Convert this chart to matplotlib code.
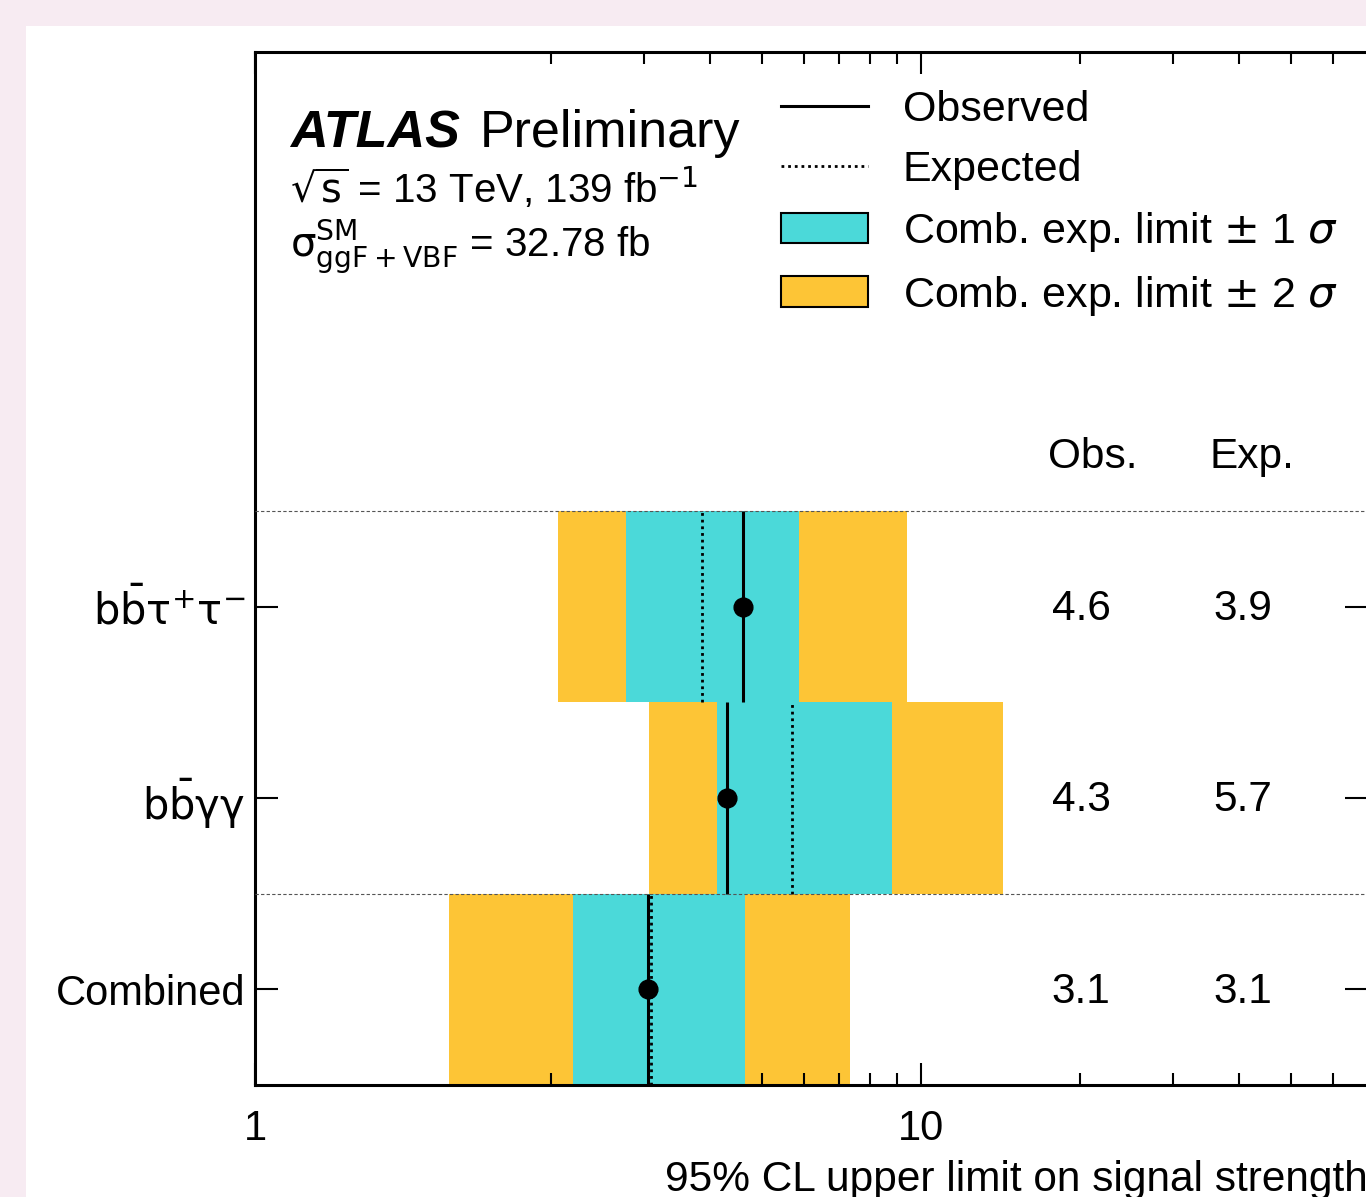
import matplotlib
matplotlib.use("Agg")
import matplotlib.pyplot as plt
from matplotlib.lines import Line2D
from matplotlib.patches import Patch, Rectangle
import matplotlib.transforms as mtransforms

# --- données ---
channels = [r"$\mathrm{b\bar{b}\tau^{+}\tau^{-}}$", r"$\mathrm{b\bar{b}\gamma\gamma}$", "Combined"]
obs_limit = [4.6, 4.3, 3.05]
exp_limit = [3.85, 5.7, 3.09]
minus2 = [2.06, 3.06, 1.28]
minus1 = [2.77, 4.11, 2.20]
plus1 = [5.88, 8.81, 4.65]
plus2 = [9.41, 14.3, 7.34]
obs_text = ["4.6", "4.3", "3.1"]
exp_text = ["3.9", "5.7", "3.1"]

ypos = [2, 1, 0]
x_lo, x_hi = 0.551, 70.0
minor_ticks = [2, 3, 4, 5, 6, 7, 8, 9, 20, 30, 40, 50, 60]

CYAN = "#4bd9d9"
YELLOW = "#fdc536"
PINK = "#f7ebf2"

plt.rcParams["font.family"] = ["Liberation Sans", "DejaVu Sans"]
plt.rcParams["mathtext.fontset"] = "dejavusans"

W, H = 1366, 1197
fig = plt.figure(figsize=(W / 100, H / 100), dpi=100)
fig.patch.set_facecolor(PINK)
fig.add_artist(Rectangle((26 / W, 0), 1, 1 - 26 / H, transform=fig.transFigure,
                         facecolor="white", edgecolor="none", zorder=-5))

ax = fig.add_axes([255 / W, (H - 1085) / H, (1368 - 255) / W, (1085 - 52) / H])
ax.set_xscale("log")
ax.set_xlim(x_lo, x_hi)
ax.set_ylim(-0.5, 4.9)

# bandes ±2σ puis ±1σ
for y, m2, m1, p1, p2 in zip(ypos, minus2, minus1, plus1, plus2):
    ax.barh(y, p2 - m2, left=m2, height=1.0, color=YELLOW, linewidth=0, zorder=1)
    ax.barh(y, p1 - m1, left=m1, height=1.0, color=CYAN, linewidth=0, zorder=2)

for y, o, e in zip(ypos, obs_limit, exp_limit):
    ax.vlines(o, y - 0.5, y + 0.5, colors="black", linewidth=2.2, zorder=3)
    ax.vlines(e, y - 0.5, y + 0.5, colors="black", linestyles=(0, (1, 1.4)), linewidth=2.0, zorder=4)
ax.plot(obs_limit, ypos, "o", color="black", markersize=13.5, zorder=5)

for ysep in [2.5, 0.5]:
    ax.axhline(ysep, color="#555555", linestyle=(0, (3, 2)), linewidth=0.8, zorder=6)

# axes
ax.set_xticks([x_lo, 10], labels=["1", "10"])
ax.set_xticks(minor_ticks, minor=True)
ax.xaxis.set_minor_formatter(matplotlib.ticker.NullFormatter())
ax.set_yticks(ypos, labels=channels)
ax.tick_params(axis="both", which="both", direction="in", top=True, right=True,
               width=1.5, labelsize=30)
ax.tick_params(axis="x", which="major", length=15.5, pad=17)
ax.tick_params(axis="x", which="minor", length=8.5)
ax.tick_params(axis="y", which="major", length=16.5, pad=7)
ax.tick_params(axis="y", which="minor", left=False, right=False)
for sp in ax.spines.values():
    sp.set_linewidth(2.2)

ax.set_xlabel("95% CL upper limit on signal strength", fontsize=30.5, loc="right", labelpad=8)

# textes ATLAS
ax.text(0.0314, 0.908, "ATLAS", transform=ax.transAxes, fontsize=37.5,
        fontweight="bold", fontstyle="italic", va="baseline")
ax.text(0.202, 0.908, "Preliminary", transform=ax.transAxes, fontsize=37.5, va="baseline")
ax.text(0.0314, 0.854, r"$\sqrt{\mathrm{s}}$ = 13 TeV, 139 fb$^{-1}$",
        transform=ax.transAxes, fontsize=29, va="baseline")
ax.text(0.0314, 0.8015, r"$\mathrm{\sigma^{SM}_{ggF+VBF}}$ = 32.78 fb",
        transform=ax.transAxes, fontsize=29, va="baseline")

# tableau des valeurs
trans = mtransforms.blended_transform_factory(ax.transAxes, ax.transData)
ax.text(0.7125, 2.725, "Obs.", transform=trans, fontsize=30.5, va="baseline")
ax.text(0.858, 2.725, "Exp.", transform=trans, fontsize=30.5, va="baseline")
for y, ot, et in zip(ypos, obs_text, exp_text):
    ax.text(0.716, y - 0.07, ot, transform=trans, fontsize=30.5, va="baseline")
    ax.text(0.861, y - 0.07, et, transform=trans, fontsize=30.5, va="baseline")

handles = [
    Line2D([], [], color="black", linewidth=2.2),
    Line2D([], [], color="black", linestyle=(0, (1, 1.4)), linewidth=2.0),
    Patch(facecolor=CYAN, edgecolor="black", linewidth=1.5),
    Patch(facecolor=YELLOW, edgecolor="black", linewidth=1.5),
]
labels = ["Observed", "Expected", r"Comb. exp. limit $\pm$ 1 $\sigma$", r"Comb. exp. limit $\pm$ 2 $\sigma$"]
ax.legend(handles, labels, loc="upper left", bbox_to_anchor=(0.4726, 0.963),
          frameon=False, fontsize=31, borderpad=0, borderaxespad=0,
          handlelength=2.02, handletextpad=0.81, labelspacing=0.46)

fig.savefig("out.png", dpi=100, facecolor=PINK)
